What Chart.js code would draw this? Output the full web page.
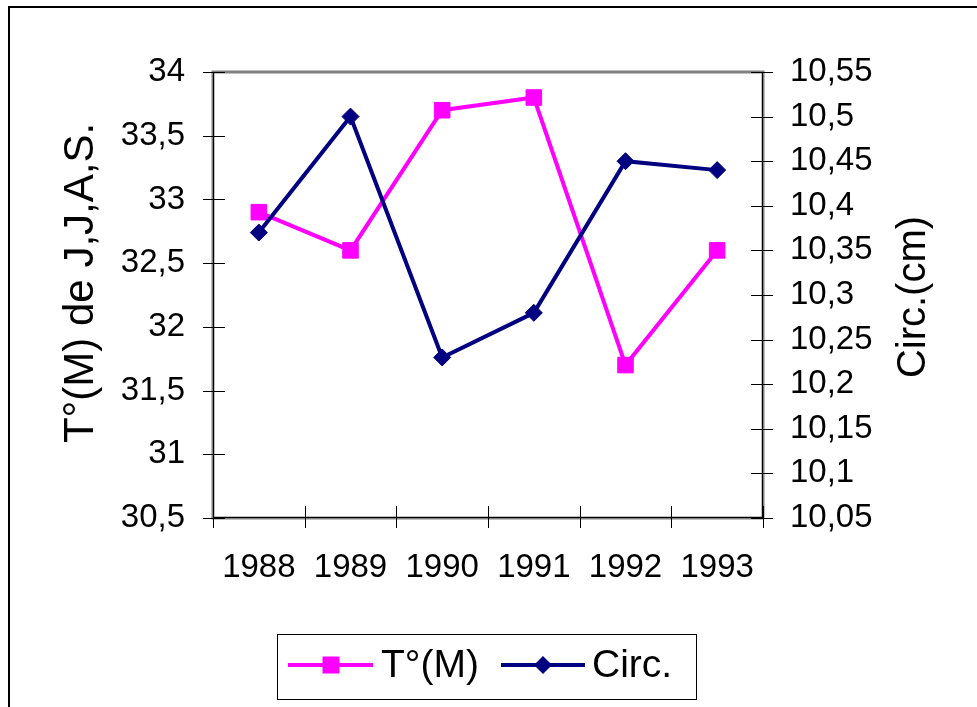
<!DOCTYPE html>
<html>
<head>
<meta charset="utf-8">
<script src="https://cdn.jsdelivr.net/npm/chart.js@4/dist/chart.umd.min.js"></script>
<style>
  html, body { margin: 0; padding: 0; background: #fff; }
  #wrap { width: 977px; height: 707px; }
</style>
</head>
<body>
<div id="wrap"><canvas id="myChart" width="977" height="707"></canvas></div>
<script>
// Data
var years = ['1988', '1989', '1990', '1991', '1992', '1993'];
var tempData = [32.9, 32.6, 33.7, 33.8, 31.7, 32.6];
var circData = [10.37, 10.5, 10.23, 10.28, 10.45, 10.44];
var leftTicks = [30.5, 31, 31.5, 32, 32.5, 33, 33.5, 34];
var rightTicks = [10.05, 10.1, 10.15, 10.2, 10.25, 10.3, 10.35, 10.4, 10.45, 10.5, 10.55];

var FONT = "'Liberation Sans', Arial, sans-serif";
var PINK = '#ff00ff';
var NAVY = '#000080';

function fmt(v) {
    return Number(v.toFixed(2)).toString().replace('.', ',');
}

// frame, tick marks, titles, legend and outer border (Excel style)
var excelBits = {
    id: 'excelBits',
    beforeDatasetsDraw: function(chart) {
        var ctx = chart.ctx;
        var a = chart.chartArea;
        var yL = chart.scales.yLeft, yR = chart.scales.yRight, x = chart.scales.x;

        ctx.save();
        // plot area frame
        ctx.strokeStyle = '#808080';
        ctx.lineWidth = 3;
        ctx.strokeRect(a.left, a.top, a.right - a.left, a.bottom - a.top);

        // axis lines + crossing ticks
        ctx.strokeStyle = '#000';
        ctx.lineWidth = 1;
        ctx.beginPath();
        ctx.moveTo(a.left + 0.5, a.top); ctx.lineTo(a.left + 0.5, a.bottom);
        ctx.moveTo(a.right - 0.5, a.top); ctx.lineTo(a.right - 0.5, a.bottom);
        ctx.moveTo(a.left, a.bottom - 0.5); ctx.lineTo(a.right, a.bottom - 0.5);
        yL.ticks.forEach(function(t) {
            var py = Math.round(yL.getPixelForValue(t.value)) + 0.5;
            ctx.moveTo(a.left - 10, py); ctx.lineTo(a.left + 12, py);
        });
        yR.ticks.forEach(function(t) {
            var py = Math.round(yR.getPixelForValue(t.value)) + 0.5;
            ctx.moveTo(a.right - 12, py); ctx.lineTo(a.right + 10, py);
        });
        var half = (x.getPixelForValue(1) - x.getPixelForValue(0)) / 2;
        for (var i = 0; i <= years.length; i++) {
            var px = Math.round(x.getPixelForValue(i) - half) + 0.5;
            ctx.moveTo(px, a.bottom - 12); ctx.lineTo(px, a.bottom + 10);
        }
        ctx.stroke();
        ctx.restore();
    },
    afterDraw: function(chart) {
        var ctx = chart.ctx;
        ctx.save();

        // outer border
        ctx.strokeStyle = '#000';
        ctx.lineWidth = 2;
        ctx.strokeRect(9, 7, 1000, 750);

        // axis titles, both read bottom to top
        ctx.fillStyle = '#000';
        ctx.textAlign = 'center';
        ctx.textBaseline = 'middle';
        ctx.save();
        ctx.translate(81, 283);
        ctx.rotate(-Math.PI / 2);
        ctx.font = '42px ' + FONT;
        ctx.fillText('T°(M) de J,J,A,S.', 0, 0);
        ctx.restore();
        ctx.save();
        ctx.translate(914, 297);
        ctx.rotate(-Math.PI / 2);
        ctx.font = '40px ' + FONT;
        ctx.fillText('Circ.(cm)', 0, 0);
        ctx.restore();

        // legend
        ctx.strokeStyle = '#000';
        ctx.lineWidth = 1;
        ctx.strokeRect(277.5, 634.5, 419, 65);
        var ly = 665;
        ctx.lineWidth = 4;
        ctx.strokeStyle = PINK;
        ctx.beginPath(); ctx.moveTo(288, ly); ctx.lineTo(373, ly); ctx.stroke();
        ctx.fillStyle = PINK;
        ctx.fillRect(331 - 8.5, ly - 8.5, 17, 17);
        ctx.strokeStyle = NAVY;
        ctx.beginPath(); ctx.moveTo(501, ly); ctx.lineTo(585, ly); ctx.stroke();
        ctx.fillStyle = NAVY;
        ctx.beginPath();
        ctx.moveTo(543 - 9, ly); ctx.lineTo(543, ly - 9); ctx.lineTo(543 + 9, ly); ctx.lineTo(543, ly + 9);
        ctx.closePath(); ctx.fill();
        ctx.fillStyle = '#000';
        ctx.textAlign = 'left';
        ctx.font = '39px ' + FONT;
        ctx.fillText('T°(M)', 381, ly + 1);
        ctx.fillText('Circ.', 592, ly + 1);

        ctx.restore();
    }
};

var ctx = document.getElementById('myChart').getContext('2d');
var myChart = new Chart(ctx, {
    type: 'line',
    data: {
        labels: years,
        datasets: [{
            label: 'T°(M)',
            data: tempData,
            yAxisID: 'yLeft',
            borderColor: PINK,
            backgroundColor: PINK,
            borderWidth: 4,
            pointStyle: 'rect',
            pointRadius: 11,
            pointBorderWidth: 1,
            tension: 0,
            order: 2
        }, {
            label: 'Circ.',
            data: circData,
            yAxisID: 'yRight',
            borderColor: NAVY,
            backgroundColor: NAVY,
            borderWidth: 4,
            pointStyle: 'rectRot',
            pointRadius: 8.5,
            pointBorderWidth: 1,
            tension: 0,
            order: 1
        }]
    },
    options: {
        responsive: false,
        animation: false,
        layout: { padding: { top: 72, left: 0, right: 0, bottom: 0 } },
        plugins: {
            legend: { display: false },
            tooltip: { enabled: false }
        },
        scales: {
            x: {
                offset: true,
                grid: { display: false, drawTicks: false, tickLength: 0 },
                border: { display: false },
                ticks: { color: '#000', font: { family: FONT, size: 33 }, padding: 30, maxRotation: 0, autoSkip: false },
                afterFit: function(s) { s.height = 189; }
            },
            yLeft: {
                position: 'left',
                min: 30.5,
                max: 34,
                grid: { display: false, drawTicks: false, tickLength: 0 },
                border: { display: false },
                afterBuildTicks: function(s) { s.ticks = leftTicks.map(function(v) { return { value: v }; }); },
                ticks: { color: '#000', font: { family: FONT, size: 33 }, padding: 28, callback: function(v) { return fmt(v); } },
                afterFit: function(s) { s.width = 213; }
            },
            yRight: {
                position: 'right',
                min: 10.05,
                max: 10.55,
                grid: { display: false, drawTicks: false, tickLength: 0 },
                border: { display: false },
                afterBuildTicks: function(s) { s.ticks = rightTicks.map(function(v) { return { value: v }; }); },
                ticks: { color: '#000', font: { family: FONT, size: 33 }, padding: 27, callback: function(v) { return fmt(v); } },
                afterFit: function(s) { s.width = 214; }
            }
        }
    },
    plugins: [excelBits]
});
</script>
</body>
</html>
